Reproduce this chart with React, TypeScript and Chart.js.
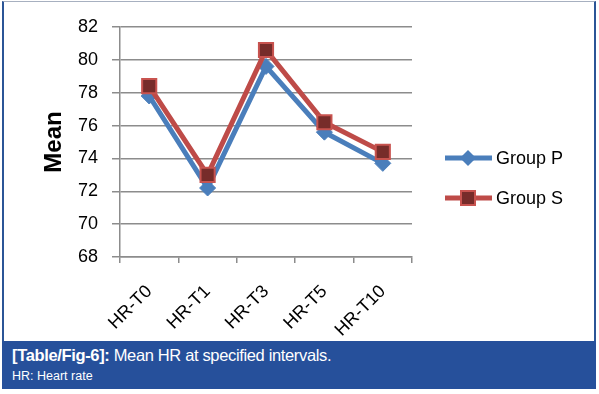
import React, { useEffect, useRef } from "react";
import { Chart, registerables } from "chart.js";

Chart.register(...registerables);

const categories = ["HR-T0", "HR-T1", "HR-T3", "HR-T5", "HR-T10"];
const groupP = [77.8, 72.2, 79.6, 75.6, 73.7];
const groupS = [78.4, 73.0, 80.6, 76.2, 74.4];
const seriesNames = ["Group P", "Group S"];
const yMin = 68;
const yMax = 82;
const yStep = 2;

const BLUE = "#4A7EBB";
const RED = "#BE4B48";
const DARKRED = "#772C2A";
const FONT = "'Liberation Sans', Arial, sans-serif";

const legendPlugin = {
  id: "excelLegend",
  afterDraw(chart: any) {
    const ctx = chart.ctx;
    const rows = [158, 198];
    chart.data.datasets.forEach((ds: any, i: number) => {
      const y = rows[i];
      ctx.save();
      ctx.strokeStyle = ds.borderColor;
      ctx.lineWidth = 5;
      ctx.beginPath();
      ctx.moveTo(445, y);
      ctx.lineTo(492, y);
      ctx.stroke();
      ctx.fillStyle = ds.pointBackgroundColor;
      ctx.strokeStyle = ds.pointBorderColor;
      ctx.lineWidth = ds.pointBorderWidth;
      if (ds.pointStyle === "rectRot") {
        ctx.beginPath();
        ctx.moveTo(468, y - 8);
        ctx.lineTo(476, y);
        ctx.lineTo(468, y + 8);
        ctx.lineTo(460, y);
        ctx.closePath();
        ctx.fill();
      } else {
        ctx.fillRect(461, y - 7, 14, 14);
        ctx.strokeRect(461, y - 7, 14, 14);
      }
      ctx.fillStyle = "#000";
      ctx.font = `18px ${FONT}`;
      ctx.textBaseline = "middle";
      ctx.textAlign = "left";
      ctx.fillText(ds.label, 496, y + 1);
      ctx.restore();
    });
  },
};

function LineChart() {
  const ref = useRef<HTMLCanvasElement>(null);
  useEffect(() => {
    if (!ref.current) return;
    const chart = new Chart(ref.current, {
      type: "line",
      data: {
        labels: categories,
        datasets: [
          {
            label: seriesNames[0],
            data: groupP,
            borderColor: BLUE,
            backgroundColor: BLUE,
            borderWidth: 5,
            pointStyle: "rectRot",
            pointRadius: 8,
            pointBackgroundColor: BLUE,
            pointBorderColor: BLUE,
            pointBorderWidth: 1,
            order: 2,
          },
          {
            label: seriesNames[1],
            data: groupS,
            borderColor: RED,
            backgroundColor: DARKRED,
            borderWidth: 5,
            pointStyle: "rect",
            pointRadius: 10,
            pointBackgroundColor: DARKRED,
            pointBorderColor: "#C8534F",
            pointBorderWidth: 2,
            order: 1,
          },
        ] as any,
      },
      options: {
        animation: false,
        responsive: false,
        maintainAspectRatio: false,
        layout: { padding: { left: 0, right: 187, top: 27, bottom: 0 } },
        plugins: {
          legend: { display: false },
          tooltip: { enabled: false },
        },
        scales: {
          x: {
            offset: true,
            grid: {
              offset: true,
              drawOnChartArea: false,
              drawTicks: true,
              tickLength: 6,
              color: "#8c8c8c",
              lineWidth: 1.5,
            },
            border: { color: "#8c8c8c", width: 1.5 },
            ticks: {
              maxRotation: 45,
              minRotation: 45,
              padding: 18,
              color: "#000",
              font: { family: FONT, size: 18 },
            },
            afterFit(scale: any) {
              scale.height = 83;
            },
          },
          y: {
            min: yMin,
            max: yMax,
            ticks: {
              stepSize: yStep,
              padding: 14,
              color: "#000",
              font: { family: FONT, size: 18 },
            },
            grid: {
              color: "#8c8c8c",
              lineWidth: 1.5,
              tickLength: 8,
            },
            border: { color: "#8c8c8c", width: 1.5 },
            title: {
              display: true,
              text: "Mean",
              color: "#000",
              font: { family: FONT, size: 24, weight: "bold" },
              padding: { top: 40, bottom: 0 },
            },
            afterFit(scale: any) {
              scale.width = 120;
            },
          },
        },
      } as any,
      plugins: [legendPlugin],
    });
    return () => chart.destroy();
  }, []);
  return (
    <canvas
      ref={ref}
      width={599}
      height={340}
      style={{ position: "absolute", left: 0, top: 0, width: 599, height: 340 }}
    />
  );
}

export default function App() {
  return (
    <div
      style={{
        position: "absolute",
        left: 0,
        top: 0,
        width: 599,
        height: 394,
        background: "#fff",
        overflow: "hidden",
      }}
    >
      <div
        style={{
          position: "absolute",
          left: 2,
          top: 1,
          width: 590,
          height: 340,
          borderLeft: "2px solid #2B5597",
          borderRight: "2px solid #2B5597",
          borderTop: "1px solid #a7b0c0",
        }}
      />
      <LineChart />
      <div
        style={{
          position: "absolute",
          left: 2,
          top: 341,
          width: 594,
          height: 48,
          background: "#26509B",
          color: "#fff",
          fontFamily: FONT,
        }}
      >
        <div
          style={{
            position: "absolute",
            left: 10,
            top: 5,
            fontSize: 16.5,
            lineHeight: "19px",
            whiteSpace: "nowrap",
            letterSpacing: "-0.35px",
          }}
        >
          <b>[Table/Fig-6]:</b> Mean HR at specified intervals.
        </div>
        <div
          style={{
            position: "absolute",
            left: 10,
            top: 28,
            fontSize: 12.5,
            lineHeight: "14px",
            whiteSpace: "nowrap",
          }}
        >
          HR: Heart rate
        </div>
      </div>
    </div>
  );
}
